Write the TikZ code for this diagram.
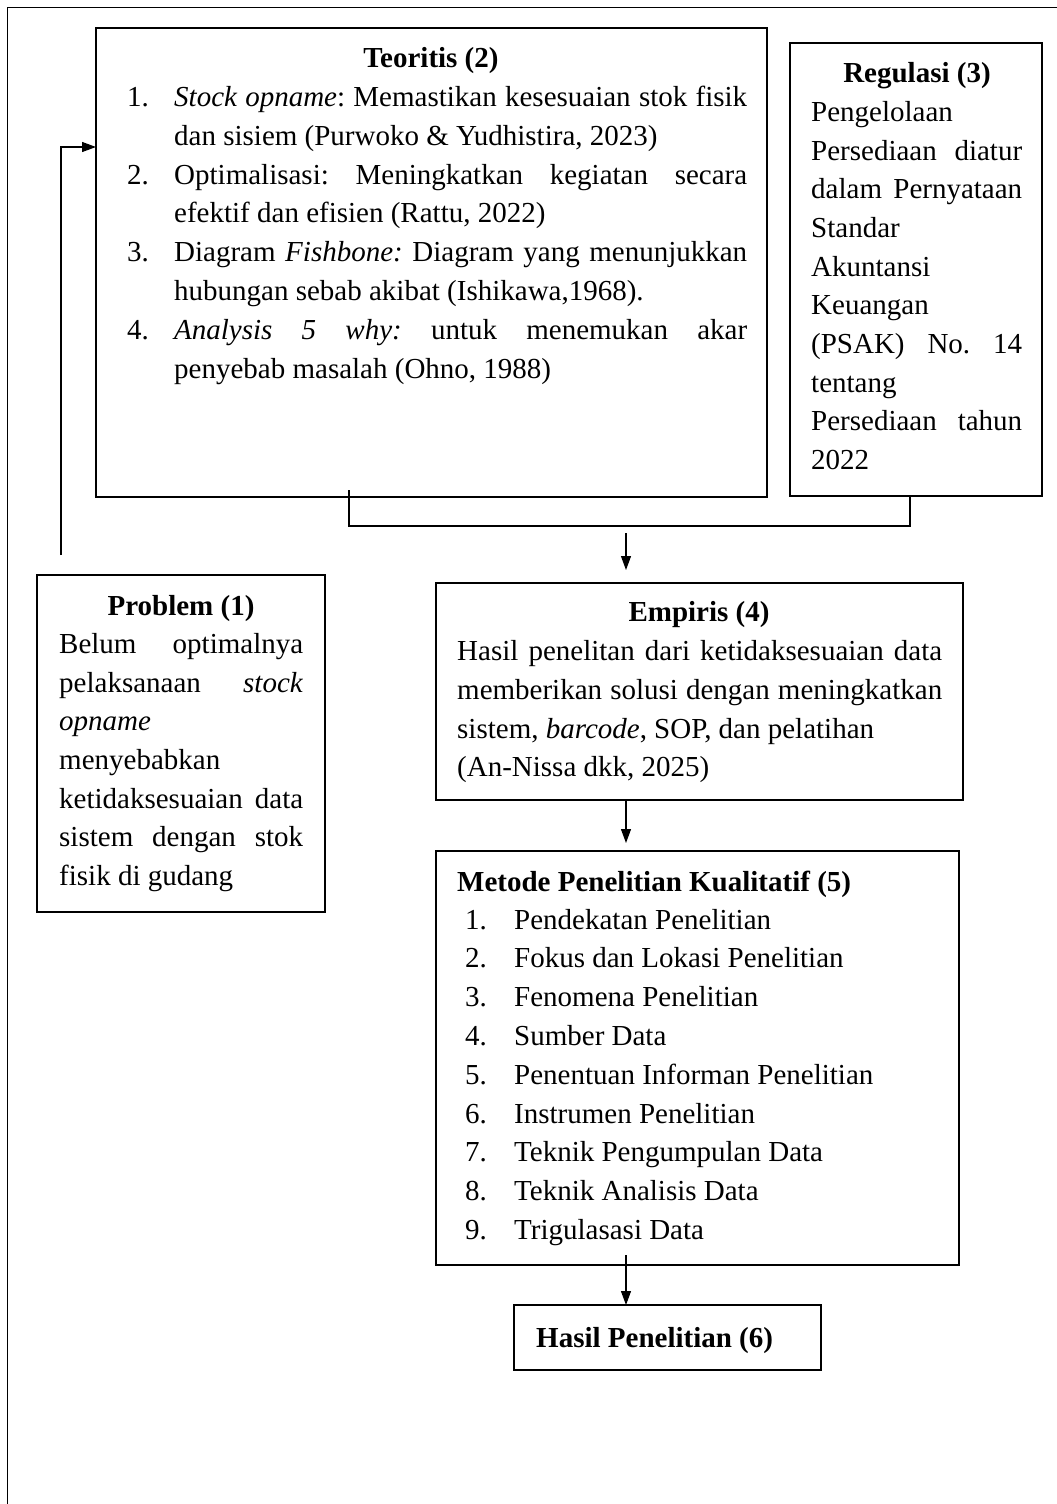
\documentclass[tikz,border=0pt]{standalone}
\usepackage{fontspec}
\setmainfont{Liberation Serif}
\usetikzlibrary{arrows.meta}
\newcommand\JL[2]{\makebox[#1][s]{#2}}
\frenchspacing
\begin{document}
\begin{tikzpicture}[x=1pt,y=-1pt,
  box/.style={draw, line width=1.7pt, anchor=north west, inner sep=0pt, outer sep=0pt},
  txt/.style={anchor=base west, inner sep=0pt, font=\fontsize{29}{39}\selectfont},
  ttl/.style={anchor=base, inner sep=0pt, font=\fontsize{29}{39}\selectfont\bfseries},
  conn/.style={line width=1.1pt},
  arr/.style={line width=1.1pt, -{Triangle[length=14pt,width=10pt]}}]
\useasboundingbox (0,0) rectangle (1057,1504);
% outer frame
\draw[line width=1pt] (7,1504) -- (7,8) -- (1057,8);

% boxes
\node[box, minimum width=671pt, minimum height=469pt] (teo) at (96,28) {};
\node[box, minimum width=252pt, minimum height=453pt] (reg) at (790,43) {};
\node[box, minimum width=288pt, minimum height=337pt] (prob) at (37,575) {};
\node[box, minimum width=527pt, minimum height=217pt] (emp) at (436,583) {};
\node[box, minimum width=523pt, minimum height=414pt] (met) at (436,851) {};
\node[box, minimum width=307pt, minimum height=65pt] (has) at (514,1305) {};

% Teoritis (2)
\node[ttl] (teoT) at (431,67) {Teoritis (2)};
\node[txt] (tn1) at (127,106) {1.};
\node[txt] (tl1) at (174,106) {\JL{573pt}{\textit{Stock opname}: Memastikan kesesuaian stok fisik}};
\node[txt] (tl2) at (174,145) {dan sisiem (Purwoko \& Yudhistira, 2023)};
\node[txt] (tn2) at (127,184) {2.};
\node[txt] (tl3) at (174,184) {\JL{573pt}{Optimalisasi: Meningkatkan kegiatan secara}};
\node[txt] (tl4) at (174,222) {efektif dan efisien (Rattu, 2022)};
\node[txt] (tn3) at (127,261) {3.};
\node[txt] (tl5) at (174,261) {\JL{573pt}{Diagram \textit{Fishbone:} Diagram yang menunjukkan}};
\node[txt] (tl6) at (174,300) {hubungan sebab akibat (Ishikawa,1968).};
\node[txt] (tn4) at (127,339) {4.};
\node[txt] (tl7) at (174,339) {\JL{573pt}{\textit{Analysis} \textit{5} \textit{why:} untuk menemukan akar}};
\node[txt] (tl8) at (174,378) {penyebab masalah (Ohno, 1988)};

% Regulasi (3)
\node[ttl] (regT) at (917,82) {Regulasi (3)};
\node[txt] (rl1) at (811,121) {Pengelolaan};
\node[txt] (rl2) at (811,160) {\JL{211pt}{Persediaan diatur}};
\node[txt] (rl3) at (811,198) {\JL{211pt}{dalam Pernyataan}};
\node[txt] (rl4) at (811,237) {Standar};
\node[txt] (rl5) at (811,276) {Akuntansi};
\node[txt] (rl6) at (811,314) {Keuangan};
\node[txt] (rl7) at (811,353) {\JL{211pt}{(PSAK) No. 14}};
\node[txt] (rl8) at (811,392) {tentang};
\node[txt] (rl9) at (811,430) {\JL{211pt}{Persediaan tahun}};
\node[txt] (rl10) at (811,469) {2022};

% Problem (1)
\node[ttl] (probT) at (181,615) {Problem (1)};
\node[txt] (pl1) at (59,653) {\JL{244pt}{Belum optimalnya}};
\node[txt] (pl2) at (59,692) {\JL{244pt}{pelaksanaan \textit{stock}}};
\node[txt] (pl3) at (59,730) {\textit{opname}};
\node[txt] (pl4) at (59,769) {menyebabkan};
\node[txt] (pl5) at (59,808) {\JL{244pt}{ketidaksesuaian data}};
\node[txt] (pl6) at (59,846) {\JL{244pt}{sistem dengan stok}};
\node[txt] (pl7) at (59,885) {fisik di gudang};

% Empiris (4)
\node[ttl] (empT) at (699,621) {Empiris (4)};
\node[txt] (el1) at (457,660) {\JL{485pt}{Hasil penelitan dari ketidaksesuaian data}};
\node[txt] (el2) at (457,699) {\JL{485pt}{memberikan solusi dengan meningkatkan}};
\node[txt] (el3) at (457,738) {sistem, \textit{barcode}, SOP, dan pelatihan};
\node[txt] (el4) at (457,776) {(An-Nissa dkk, 2025)};

% Metode Penelitian Kualitatif (5)
\node[ttl, anchor=base west] (metT) at (457,891) {Metode Penelitian Kualitatif (5)};
\foreach \i/\t [evaluate=\i as \yy using 929+38.8*(\i-1)] in
  {1/Pendekatan Penelitian, 2/Fokus dan Lokasi Penelitian, 3/Fenomena Penelitian,
   4/Sumber Data, 5/Penentuan Informan Penelitian, 6/Instrumen Penelitian,
   7/Teknik Pengumpulan Data, 8/Teknik Analisis Data, 9/Trigulasasi Data}
{
  \node[txt] (mn\i) at (465,\yy) {\i.};
  \node[txt] (ml\i) at (514,\yy) {\t};
}

% Hasil Penelitian (6)
\node[ttl, anchor=base west] (hasT) at (536,1347) {Hasil Penelitian (6)};

% connectors
\coordinate (pa) at (61,555);
\coordinate (pb) at (96,147);
\draw[arr] (pa) |- (pb);

\coordinate (ta) at (349,490);
\coordinate (j1) at (349,526);
\coordinate (j2) at (910,526);
\coordinate (rb) at (910,496);
\draw[conn] (ta) -- (j1) -- (j2) -- (rb);

\coordinate (a1) at (626,533);
\coordinate (a1e) at (626,570);
\draw[arr] (a1) -- (a1e);

\coordinate (a2) at (626,800);
\coordinate (a2e) at (626,843);
\draw[arr] (a2) -- (a2e);

\coordinate (a3) at (626,1255);
\draw[arr] (a3) -- (has.north -| a3);
\end{tikzpicture}
\end{document}
